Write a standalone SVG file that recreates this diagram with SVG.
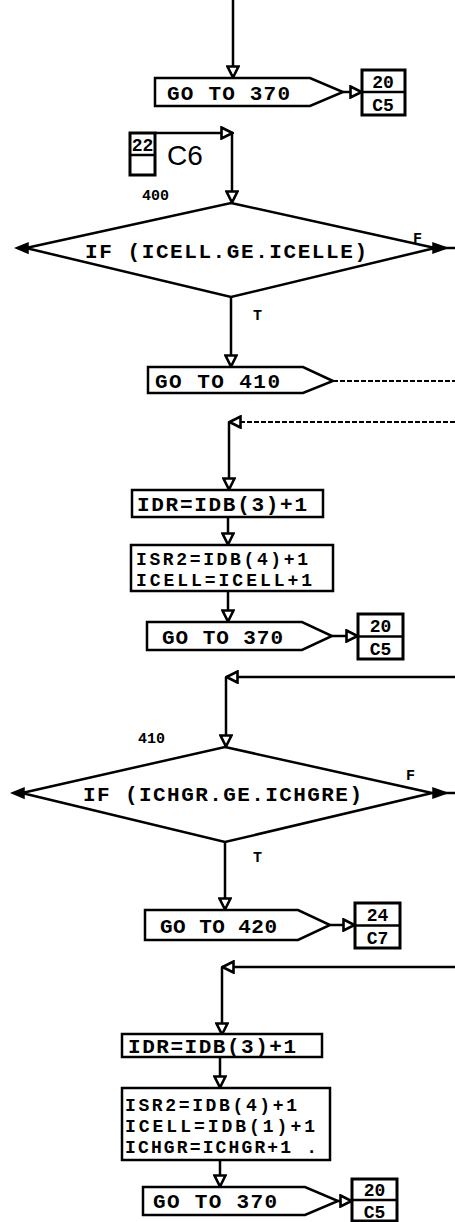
<svg xmlns="http://www.w3.org/2000/svg" width="455" height="1222" viewBox="0 0 455 1222">
<style>
.ln{stroke:#000;stroke-width:2.5;fill:none}
.dash{stroke-dasharray:5 2;stroke-width:2}
.sh{fill:#fff;stroke:#000;stroke-width:2.5}
.bx{fill:#fff;stroke:#000;stroke-width:3}
.t{font-family:"Liberation Mono","DejaVu Sans Mono",monospace;font-weight:bold;font-size:21px;fill:#000}
.m{font-family:"Liberation Mono","DejaVu Sans Mono",monospace;font-weight:bold;font-size:18px;fill:#000}
.s{font-family:"Liberation Mono","DejaVu Sans Mono",monospace;font-weight:bold;font-size:15px;fill:#000}
.c{font-family:"Liberation Mono","DejaVu Sans Mono",monospace;font-weight:bold;font-size:18px;fill:#000;text-anchor:middle}
.big{font-family:"Liberation Sans",Arial,sans-serif;font-size:28px;fill:#000}
.tip{fill:#000;stroke:#000;stroke-width:1.5}
</style>
<defs>
<marker id="a" viewBox="0 0 14 14" refX="13" refY="7" markerWidth="14" markerHeight="14" markerUnits="userSpaceOnUse" orient="auto">
<path d="M1.5,1.5 L12.5,7 L1.5,12.5 Z" fill="#fff" stroke="#000" stroke-width="2.6"/>
</marker>
</defs>
<rect width="455" height="1222" fill="#fff"/>

<g id="connectors">
<path class="ln" d="M233,0 V78" marker-end="url(#a)"/>
<path class="ln" d="M343,92 H362" marker-end="url(#a)"/>
<path class="ln" d="M155,133 H233" marker-end="url(#a)"/>
<path class="ln" d="M232,133 V203" marker-end="url(#a)"/>
<path class="ln" d="M231,297 V367" marker-end="url(#a)"/>
<path class="ln dash" d="M333,381 H455"/>
<path class="ln dash" d="M455,422 H229" marker-end="url(#a)"/>
<path class="ln" d="M229,422 V490" marker-end="url(#a)"/>
<path class="ln" d="M228,517 V545" marker-end="url(#a)"/>
<path class="ln" d="M228,591 V622" marker-end="url(#a)"/>
<path class="ln" d="M332,636 H358" marker-end="url(#a)"/>
<path class="ln" d="M455,677 H226" marker-end="url(#a)"/>
<path class="ln" d="M226,677 V747" marker-end="url(#a)"/>
<path class="ln" d="M225,842 V910" marker-end="url(#a)"/>
<path class="ln" d="M330,925 H355" marker-end="url(#a)"/>
<path class="ln" d="M455,967 H222" marker-end="url(#a)"/>
<path class="ln" d="M222,967 V1035" marker-end="url(#a)"/>
<path class="ln" d="M220,1056 V1088" marker-end="url(#a)"/>
<path class="ln" d="M220,1160 V1187" marker-end="url(#a)"/>
<path class="ln" d="M338,1201 H352" marker-end="url(#a)"/>
<path class="ln" d="M435,248 H455"/>
<path class="ln" d="M432,793 H455"/>
</g>

<g id="goto370a">
<polygon class="sh" points="155,78 310,78 343,92 310,106 155,106"/>
<text class="t" x="167" y="100" textLength="123" lengthAdjust="spacing">GO TO 370</text>
</g>
<g id="off20a">
<rect class="bx" x="362" y="70" width="43" height="45"/>
<line class="ln" x1="362" y1="92" x2="405" y2="92"/>
<text class="c" x="383" y="88">20</text>
<text class="c" x="383" y="111">C5</text>
</g>

<g id="entryC6">
<rect class="bx" x="130" y="133" width="25" height="42"/>
<line class="ln" x1="130" y1="155" x2="155" y2="155"/>
<text class="c" x="142.5" y="151" font-size="15">22</text>
<text class="big" x="167" y="165">C6</text>
</g>

<g id="dec400">
<text class="s" x="142" y="200">400</text>
<polygon class="sh" points="231,203 435,248 231,297 26,248"/>
<polygon class="tip" points="16,248 28,243 28,253"/>
<polygon class="tip" points="447,248 433,243 433,253"/>
<text class="t" x="85" y="258" textLength="282" lengthAdjust="spacing">IF (ICELL.GE.ICELLE)</text>
<text class="s" x="413" y="243">F</text>
<text class="s" x="253" y="320">T</text>
</g>

<g id="goto410">
<polygon class="sh" points="148,367 303,367 333,381 303,393 148,393"/>
<text class="t" x="155" y="388" textLength="125" lengthAdjust="spacing">GO TO 410</text>
</g>

<g id="idr1">
<rect class="sh" x="132" y="490" width="191" height="27"/>
<text class="t" x="137" y="511" textLength="170" lengthAdjust="spacing">IDR=IDB(3)+1</text>
</g>

<g id="isr1">
<rect class="sh" x="131" y="545" width="202" height="46"/>
<text class="m" x="136" y="565" textLength="172" lengthAdjust="spacing">ISR2=IDB(4)+1</text>
<text class="m" x="136" y="586" textLength="176" lengthAdjust="spacing">ICELL=ICELL+1</text>
</g>

<g id="goto370b">
<polygon class="sh" points="147,622 302,622 332,636 302,650 147,650"/>
<text class="t" x="162" y="644" textLength="121" lengthAdjust="spacing">GO TO 370</text>
</g>
<g id="off20b">
<rect class="bx" x="358" y="614" width="45" height="45"/>
<line class="ln" x1="358" y1="636.5" x2="403" y2="636.5"/>
<text class="c" x="380.5" y="632">20</text>
<text class="c" x="380.5" y="655">C5</text>
</g>

<g id="dec410">
<text class="s" x="138" y="743">410</text>
<polygon class="sh" points="225,747 432,793 225,842 22,793"/>
<polygon class="tip" points="12,793 24,788 24,798"/>
<polygon class="tip" points="447,793 433,788 433,798"/>
<text class="t" x="83" y="801" textLength="279" lengthAdjust="spacing">IF (ICHGR.GE.ICHGRE)</text>
<text class="s" x="406" y="780">F</text>
<text class="s" x="253" y="862">T</text>
</g>

<g id="goto420">
<polygon class="sh" points="145,910 298,910 330,925 298,940 145,940"/>
<text class="t" x="160" y="933" textLength="117" lengthAdjust="spacing">GO TO 420</text>
</g>
<g id="off24">
<rect class="bx" x="355" y="903" width="45" height="45"/>
<line class="ln" x1="355" y1="925.5" x2="400" y2="925.5"/>
<text class="c" x="377.5" y="921">24</text>
<text class="c" x="377.5" y="944">C7</text>
</g>

<g id="idr2">
<rect class="sh" x="122" y="1034" width="200" height="23"/>
<text class="t" x="128" y="1053" textLength="168" lengthAdjust="spacing">IDR=IDB(3)+1</text>
</g>

<g id="isr2">
<rect class="sh" x="122" y="1088" width="208" height="72"/>
<text class="m" x="125" y="1111" textLength="172" lengthAdjust="spacing">ISR2=IDB(4)+1</text>
<text class="m" x="125" y="1132" textLength="190" lengthAdjust="spacing">ICELL=IDB(1)+1</text>
<text class="m" x="125" y="1153" textLength="192" lengthAdjust="spacing">ICHGR=ICHGR+1 .</text>
</g>

<g id="goto370c">
<polygon class="sh" points="143,1187 305,1187 338,1201 305,1215 143,1215"/>
<text class="t" x="153" y="1208" textLength="124" lengthAdjust="spacing">GO TO 370</text>
</g>
<g id="off20c">
<rect class="bx" x="352" y="1179" width="45" height="42"/>
<line class="ln" x1="352" y1="1200" x2="397" y2="1200"/>
<text class="c" x="374.5" y="1196">20</text>
<text class="c" x="374.5" y="1218">C5</text>
</g>
</svg>
